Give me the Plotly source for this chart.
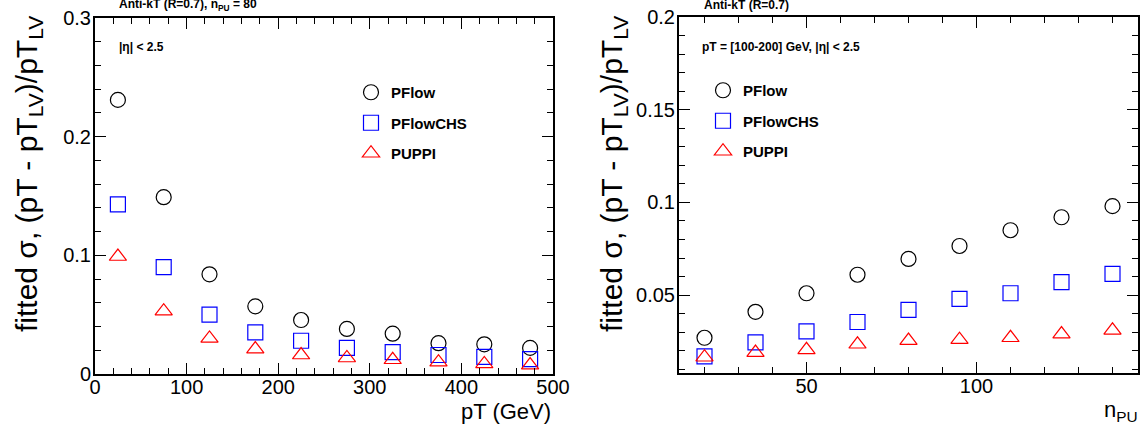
import plotly.graph_objects as go

# ---- data ----
pt_bins = [25, 75, 125, 175, 225, 275, 325, 375, 425, 475]
pflow_pt = [0.231, 0.149, 0.084, 0.057, 0.0455, 0.038, 0.034, 0.026, 0.025, 0.022]
pflowchs_pt = [0.143, 0.090, 0.050, 0.035, 0.028, 0.022, 0.0185, 0.016, 0.0145, 0.0125]
puppi_pt = [0.099, 0.053, 0.030, 0.021, 0.016, 0.0135, 0.012, 0.010, 0.0085, 0.0075]

npu_bins = [20, 35, 50, 65, 80, 95, 110, 125, 140]
pflow_npu = [0.027, 0.041, 0.051, 0.061, 0.0695, 0.0765, 0.085, 0.092, 0.098]
pflowchs_npu = [0.017, 0.0245, 0.0305, 0.0355, 0.042, 0.048, 0.051, 0.057, 0.0615]
puppi_npu = [0.0165, 0.019, 0.0205, 0.0235, 0.0255, 0.026, 0.027, 0.029, 0.031]

series_names = ["PFlow", "PFlowCHS", "PUPPI"]
symbols = ["circle-open", "square-open", "triangle-up-open"]
colors = ["#000000", "#0000ff", "#ff0000"]

W, H = 1146, 434
FONT = "Liberation Sans, Arial, sans-serif"


def px_x(a):
    return a / W


def px_y(b):
    return 1 - b / H


fig = go.Figure()

left_sets = [pflow_pt, pflowchs_pt, puppi_pt]
right_sets = [pflow_npu, pflowchs_npu, puppi_npu]

for i, name in enumerate(series_names):
    fig.add_trace(go.Scatter(
        x=pt_bins, y=left_sets[i], mode="markers", name=name,
        marker=dict(symbol=symbols[i], size=15, color=colors[i], line=dict(width=1.2, color=colors[i])),
        xaxis="x", yaxis="y", legend="legend", legendgroup="l" + str(i),
    ))
for i, name in enumerate(series_names):
    fig.add_trace(go.Scatter(
        x=npu_bins, y=right_sets[i], mode="markers", name=name,
        marker=dict(symbol=symbols[i], size=15, color=colors[i], line=dict(width=1.2, color=colors[i])),
        xaxis="x2", yaxis="y2", legend="legend2", legendgroup="r" + str(i),
    ))

axis_common = dict(
    showline=True, linecolor="black", linewidth=2, mirror="ticks",
    ticks="inside", ticklen=11, tickwidth=1, tickcolor="black",
    showgrid=False, zeroline=False, automargin=False,
    tickfont=dict(family=FONT, size=20, color="black"),
)
xfix = dict(ticklabelstandoff=-6)
yfix = dict(ticklabelstandoff=-2)

fig.update_layout(
    width=W, height=H, autosize=False,
    margin=dict(l=0, r=0, t=0, b=0, pad=0, autoexpand=False),
    paper_bgcolor="white", plot_bgcolor="white",
    font=dict(family=FONT, color="black"),
    xaxis=dict(domain=[px_x(95), px_x(553)], range=[0, 500], tick0=0, dtick=100,
               minor=dict(ticks="inside", ticklen=6, dtick=20, tickcolor="black"),
               anchor="y", **axis_common, **xfix),
    yaxis=dict(domain=[px_y(374), px_y(18)], range=[0, 0.3], tick0=0, dtick=0.1,
               minor=dict(ticks="inside", ticklen=6, dtick=0.02, tickcolor="black"),
               anchor="x", **axis_common, **yfix),
    xaxis2=dict(domain=[px_x(679), px_x(1138)], range=[12.5, 147.5], tick0=0, dtick=50,
                minor=dict(ticks="inside", ticklen=6, dtick=10, tickcolor="black"),
                anchor="y2", **axis_common, **xfix),
    yaxis2=dict(domain=[px_y(373), px_y(17)], range=[0.008, 0.2], tick0=0, dtick=0.05,
                minor=dict(ticks="inside", ticklen=6, dtick=0.01, tickcolor="black"),
                anchor="x2", **axis_common, **yfix),
    legend=dict(x=px_x(351), y=px_y(76), xanchor="left", yanchor="top",
                bgcolor="rgba(0,0,0,0)", borderwidth=0,
                font=dict(family=FONT, size=15, color="black", weight="bold"),
                traceorder="grouped", tracegroupgap=8),
    legend2=dict(x=px_x(703), y=px_y(74), xanchor="left", yanchor="top",
                 bgcolor="rgba(0,0,0,0)", borderwidth=0,
                 font=dict(family=FONT, size=15, color="black", weight="bold"),
                 traceorder="grouped", tracegroupgap=8),
    showlegend=True,
)

ytitle = "fitted σ, (pT - pT<sub>LV</sub>)/pT<sub>LV</sub>"
annotations = [
    dict(text="<b>Anti-kT (R=0.7), n<sub>PU</sub> = 80</b>", x=px_x(117), y=px_y(5),
         xanchor="left", yanchor="middle", font=dict(size=12)),
    dict(text="<b>Anti-kT (R=0.7)</b>", x=px_x(702), y=px_y(5),
         xanchor="left", yanchor="middle", font=dict(size=12)),
    dict(text="<b>|η| < 2.5</b>", x=px_x(117), y=px_y(47),
         xanchor="left", yanchor="middle", font=dict(size=12)),
    dict(text="<b>pT = [100-200] GeV, |η| < 2.5</b>", x=px_x(700), y=px_y(47),
         xanchor="left", yanchor="middle", font=dict(size=12)),
    dict(text="pT (GeV)", x=px_x(553), y=px_y(411), xanchor="right", yanchor="middle",
         font=dict(size=22)),
    dict(text="n<sub>PU</sub>", x=px_x(1140), y=px_y(411), xanchor="right", yanchor="middle",
         font=dict(size=22)),
    dict(text=ytitle, x=px_x(28), y=px_y(14), xanchor="center", yanchor="top",
         textangle=-90, font=dict(size=30)),
    dict(text=ytitle, x=px_x(613), y=px_y(14), xanchor="center", yanchor="top",
         textangle=-90, font=dict(size=30)),
]
for a in annotations:
    a.update(xref="paper", yref="paper", showarrow=False)
    a["font"] = dict(family=FONT, color="black", **a["font"])
fig.update_layout(annotations=annotations)

fig.write_html("out.html", config={"displayModeBar": False},
               post_script="document.body.style.margin='0';document.body.style.overflow='hidden';")
